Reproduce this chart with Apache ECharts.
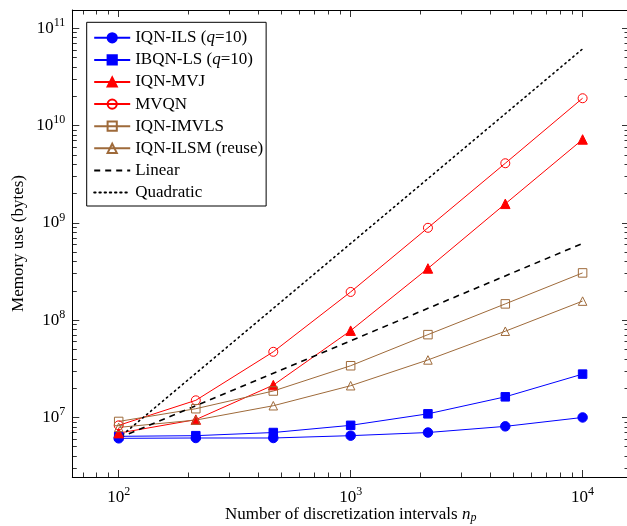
<!DOCTYPE html>
<html>
<head>
<meta charset="utf-8">
<script src="https://cdn.jsdelivr.net/npm/echarts@6/dist/echarts.min.js"></script>
<style>
  html, body { margin: 0; padding: 0; background: #fff; }
  #chart { width: 627px; height: 526px; }
</style>
</head>
<body>
<div id="chart"></div>
<script>
// number of discretization intervals
const np = [100, 215, 464, 1000, 2154, 4642, 10000];

// memory use (bytes)
const iqnIls   = [6.1e6, 6.15e6, 6.15e6, 6.5e6, 7.0e6, 8.1e6, 1.0e7];
const ibqnLs   = [6.4e6, 6.5e6, 7.0e6, 8.3e6, 1.09e7, 1.63e7, 2.79e7];
const iqnMvj   = [6.9e6, 9.5e6, 2.15e7, 7.8e7, 3.4e8, 1.57e9, 7.2e9];
const mvqn     = [8.3e6, 1.5e7, 4.73e7, 1.95e8, 8.9e8, 4.1e9, 1.91e10];
const iqnImvls = [9.1e6, 1.23e7, 1.87e7, 3.4e7, 7.1e7, 1.47e8, 3.06e8];
const iqnIlsm  = [7.9e6, 9.4e6, 1.32e7, 2.12e7, 3.9e7, 7.7e7, 1.57e8];

// reference slopes (end points)
const refX      = [100, 10000];
const linear    = [6.14e6, 6.14e8];
const quadratic = [6.14e6, 6.14e10];

const xMajor = [100, 1000, 10000];
const xMinor = [70, 80, 90, 200, 300, 400, 500, 600, 700, 800, 900,
                2000, 3000, 4000, 5000, 6000, 7000, 8000, 9000];
const yMajor = [1e7, 1e8, 1e9, 1e10, 1e11];
const yMinor = [];
[1e6, 1e7, 1e8, 1e9, 1e10].forEach(function (d) {
    for (let k = 2; k <= 9; k++) {
        if (d * k > 2.44e6) yMinor.push(d * k);
    }
});

const X_MIN = Math.pow(10, 1.8), X_MAX = Math.pow(10, 4.2);
const Y_MIN = Math.pow(10, 6.388), Y_MAX = Math.pow(10, 11.188);

const FONT = '"Liberation Serif", "DejaVu Serif", serif';
const BLUE = '#0000ff', RED = '#ff0000', BROWN = '#9e6a3a';

function pair(xs, ys) {
    return xs.map(function (x, i) { return [x, ys[i]]; });
}

function powLabel(v) {
    return '10{sup|' + Math.round(Math.log10(v)) + '}';
}

const labelRich = {
    sup: { fontSize: 12, fontFamily: FONT, color: '#000', padding: [0, 0, 11, 0] }
};

function xAxis(pos, major, withLabel) {
    return {
        type: 'log', position: pos, min: X_MIN, max: X_MAX,
        axisLine: { show: major, lineStyle: { color: '#000', width: 1 } },
        axisTick: { inside: true, length: major ? 7 : 4.5, customValues: major ? xMajor : xMinor,
                    lineStyle: { color: '#000', width: 0.8 } },
        axisLabel: withLabel ? { customValues: xMajor, formatter: powLabel, margin: 9,
                    fontFamily: FONT, fontSize: 17, color: '#000', rich: labelRich } : { show: false },
        splitLine: { show: false },
        minorTick: { show: false }
    };
}

function yAxis(pos, major, withLabel) {
    return {
        type: 'log', position: pos, min: Y_MIN, max: Y_MAX,
        axisLine: { show: major, lineStyle: { color: '#000', width: 1 } },
        axisTick: { inside: true, length: major ? 7 : 4.5, customValues: major ? yMajor : yMinor,
                    lineStyle: { color: '#000', width: 0.8 } },
        axisLabel: withLabel ? { customValues: yMajor, formatter: powLabel, margin: 7,
                    fontFamily: FONT, fontSize: 17, color: '#000', rich: labelRich } : { show: false },
        splitLine: { show: false },
        minorTick: { show: false }
    };
}

const xAxes = [
    xAxis('bottom', true, true),
    xAxis('bottom', false, false),
    xAxis('top', true, false),
    xAxis('top', false, false)
];
xAxes[0].name = 'Number of discretization intervals {i|n}{sub|p}';
xAxes[0].nameLocation = 'middle';
xAxes[0].nameGap = 29;
xAxes[0].nameMoveOverlap = false;
xAxes[0].nameTextStyle = {
    fontFamily: FONT, fontSize: 17, color: '#000',
    rich: {
        i: { fontFamily: FONT, fontSize: 17, fontStyle: 'italic', color: '#000' },
        sub: { fontFamily: FONT, fontSize: 12, fontStyle: 'italic', color: '#000', padding: [6, 0, 0, 0] }
    }
};

const yAxes = [
    yAxis('left', true, true),
    yAxis('left', false, false),
    yAxis('right', true, false),
    yAxis('right', false, false)
];
yAxes[0].name = 'Memory use (bytes)';
yAxes[0].nameLocation = 'middle';
yAxes[0].nameGap = 45;
yAxes[0].nameMoveOverlap = false;
yAxes[0].nameTextStyle = { fontFamily: FONT, fontSize: 17, color: '#000' };

function markSeries(name, ys, color, symbol, size, filled) {
    return {
        name: name, type: 'line', data: pair(np, ys),
        symbol: symbol, symbolSize: size, showSymbol: true,
        lineStyle: { color: color, width: 1 },
        itemStyle: filled ? { color: color, borderColor: color, borderWidth: 1 }
                          : { color: 'transparent', borderColor: color, borderWidth: 1 },
        emphasis: { disabled: true },
        animation: false
    };
}

const chart = echarts.init(document.getElementById('chart'), null, { renderer: 'canvas' });
chart.setOption({
    animation: false,
    textStyle: { fontFamily: FONT },
    grid: { left: 72.3, right: -2, top: 10, bottom: 49, containLabel: false, outerBoundsMode: 'none' },
    legend: {
        orient: 'vertical', left: 86.7, top: 22.3,
        padding: [7, 3, 5, 6.5],
        borderColor: '#000', borderWidth: 1, backgroundColor: '#fff',
        itemWidth: 36, itemHeight: 11.5, itemGap: 5.1,
        textStyle: {
            fontFamily: FONT, fontSize: 17, color: '#000', lineHeight: 17,
            rich: { i: { fontFamily: FONT, fontSize: 17, fontStyle: 'italic', color: '#000', lineHeight: 17 } }
        },
        formatter: function (name) { return name.replace('(q=', '({i|q}='); },
        data: [
            'IQN-ILS (q=10)', 'IBQN-LS (q=10)', 'IQN-MVJ', 'MVQN', 'IQN-IMVLS', 'IQN-ILSM (reuse)',
            { name: 'Linear', itemStyle: { opacity: 0 } },
            { name: 'Quadratic', itemStyle: { opacity: 0 } }
        ]
    },
    xAxis: xAxes,
    yAxis: yAxes,
    series: [
        markSeries('IQN-ILS (q=10)', iqnIls, BLUE, 'circle', 9.5, true),
        markSeries('IBQN-LS (q=10)', ibqnLs, BLUE, 'rect', 8.5, true),
        markSeries('IQN-MVJ', iqnMvj, RED, 'triangle', 9.5, true),
        markSeries('MVQN', mvqn, RED, 'circle', 9, false),
        markSeries('IQN-IMVLS', iqnImvls, BROWN, 'rect', 8.5, false),
        markSeries('IQN-ILSM (reuse)', iqnIlsm, BROWN, 'triangle', 8.5, false),
        {
            name: 'Linear', type: 'line', data: pair(refX, linear), symbol: 'none',
            lineStyle: { color: '#000', width: 1.6, type: [6, 5] },
            itemStyle: { color: '#000' }
        },
        {
            name: 'Quadratic', type: 'line', data: pair(refX, quadratic), symbol: 'none',
            lineStyle: { color: '#000', width: 1.6, type: [1.4, 3.8], cap: 'round' },
            itemStyle: { color: '#000' }
        }
    ]
});
</script>
</body>
</html>
